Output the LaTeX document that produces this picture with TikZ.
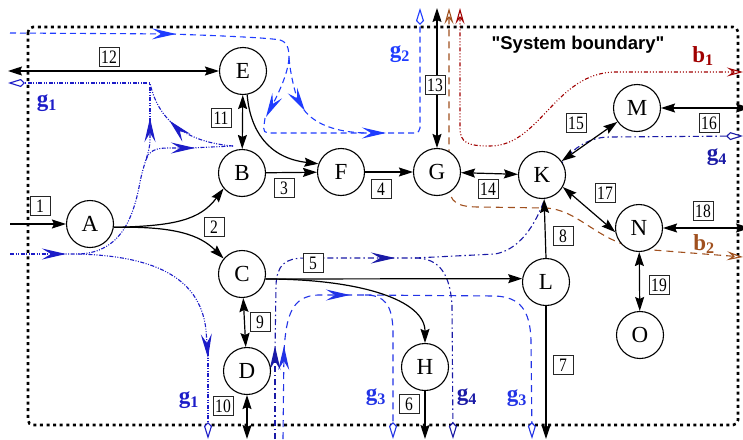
\documentclass[tikz,border=0pt]{standalone}
\usepackage{fontspec}
\setmainfont{Liberation Serif}
\newfontfamily\sysfont{Liberation Sans}
\newfontfamily\numfont[FakeStretch=0.82]{Liberation Serif}
\usetikzlibrary{arrows.meta,decorations.markings}
\definecolor{gone}{HTML}{1C1CC8}
\definecolor{gtwo}{HTML}{1F3CFF}
\definecolor{gthree}{HTML}{2233E6}
\definecolor{gfour}{HTML}{1A1AA6}
\definecolor{bone}{HTML}{A00000}
\definecolor{btwo}{HTML}{A0501E}
\tikzset{
  ftip/.tip={Stealth[length=24pt,width=11pt,inset=9pt]},
  gkite/.tip={Kite[open,fill=white,length=17pt,width=8pt]},
  bopen/.tip={Stealth[open,fill=white,length=16pt,width=9pt,inset=6pt]},
  btip/.tip={Stealth[length=14pt,width=9pt,inset=2pt]},
}
\begin{document}
\begin{tikzpicture}[x=1pt,y=-1pt,
  state/.style={circle,draw,line width=1.1pt,fill=white,minimum size=47pt,inner sep=0pt,font=\fontsize{23}{24}\selectfont},
  num/.style={draw=black!85,line width=0.7pt,fill=white,minimum width=20pt,minimum height=19pt,inner sep=0.5pt,font=\numfont\fontsize{19}{20}\selectfont},
  blk/.style={line width=1.2pt,-{btip}},
  blkd/.style={line width=1.2pt,{btip}-{btip}},
  farr/.style={postaction={decorate,decoration={markings,mark=at position #1 with {\arrow{ftip}}}}},
  g1s/.style={gone,line width=1.1pt,dash pattern=on 4pt off 1.5pt on 1pt off 1.5pt on 1pt off 1.5pt},
  g2s/.style={gtwo,line width=1.1pt,dash pattern=on 6pt off 4pt},
  g3s/.style={gthree,line width=1.1pt,dash pattern=on 7pt off 5pt},
  g4s/.style={gfour,line width=1.1pt,dash pattern=on 6pt off 3pt on 1.5pt off 3pt},
  b1s/.style={bone,line width=1.1pt,dash pattern=on 4pt off 2pt on 1pt off 2pt on 1pt off 2pt on 1pt off 2pt},
  b2s/.style={btwo,line width=1.1pt,dash pattern=on 7pt off 5pt},
  glab/.style={font=\bfseries\fontsize{23}{24}\selectfont},
]
\useasboundingbox (0,0) rectangle (743,439);
% system boundary
\draw[line width=2.6pt,dash pattern=on 3pt off 3.6pt,rounded corners=5pt] (28,27) rectangle (738,425);
\node[font=\sysfont\bfseries\fontsize{18.5}{20}\selectfont] (sys) at (578,45) {"System boundary"};

% ---- flow g1
\draw[g1s,-{ftip}] (10,254) -- (66,254);
\draw[g1s,-{ftip}] (60,254) -- (78,254) .. controls (122,253) and (134,215) .. (140,182) .. controls (144,162) and (150,152) .. (150,140) -- (150,118);
\draw[g1s,-{gkite}] (150,122) -- (150,83) -- (8,83);
\draw[g1s,-{ftip}] (146,160) .. controls (149,151) and (155,148) .. (168,148) -- (195,148);
\draw[g1s] (190,148) -- (233,146);
\draw[g1s,farr=0.62] (233,146) .. controls (185,142) and (158,120) .. (150,83);
\draw[g1s,-{ftip}] (78,254) .. controls (150,256) and (200,275) .. (206,330) -- (208,358);
\draw[g1s,-{gkite}] (208,352) -- (208,439);
% ---- flow g2
\draw[g2s,-{ftip}] (10,33) -- (176,34);
\draw[g2s] (170,34) .. controls (230,36) and (270,38) .. (280,40) .. controls (287,42) and (289,48) .. (289,58);
\draw[g2s,-{ftip}] (289,58) .. controls (288,75) and (276,98) .. (266,117);
\draw[g2s,-{ftip}] (289,58) .. controls (291,80) and (297,98) .. (305,111);
\draw[g2s,rounded corners=5pt,-{ftip}] (265,118) -- (263,133) -- (386,133);
\draw[g2s] (304,110) .. controls (315,124) and (335,132) .. (365,133);
\draw[g2s,rounded corners=5pt,-{gkite}] (378,133) -- (420,133) -- (420,8);
% ---- flow g3
\draw[g3s,-{ftip}] (283,439) -- (284,346);
\draw[g3s,-{ftip}] (284,352) .. controls (286,315) and (292,296) .. (318,295) -- (350,295);
\draw[g3s,-{gkite}] (345,295) -- (365,295) .. controls (385,295) and (392,305) .. (393,330) -- (393,439);
\draw[g3s,-{gkite}] (365,295) -- (495,296) .. controls (520,297) and (530,310) .. (531,340) -- (532,439);
% ---- flow g4
\draw[g4s,-{ftip}] (275,439) -- (275,346);
\draw[g4s,-{ftip}] (275,352) -- (276,285) .. controls (277,265) and (285,258) .. (305,258) -- (395,258);
\draw[g4s,-{gkite}] (388,258) -- (415,258) .. controls (440,258) and (450,275) .. (452,305) -- (453,439);
\draw[g4s,-{gkite}] (415,258) -- (495,254) .. controls (518,250) and (535,228) .. (546,195) .. controls (554,168) and (575,137) .. (610,137) -- (743,136);
% ---- flow b1, b2
\draw[b1s,{bopen}-{bopen}] (460,8) -- (460,128) .. controls (460,143) and (468,146) .. (490,146) .. controls (540,146) and (555,73) .. (615,72) -- (743,72);
\draw[b2s,{bopen}-{bopen}] (449,8) -- (449,185) .. controls (449,203) and (458,207) .. (480,207) -- (545,208) .. controls (578,209) and (595,240) .. (640,249) -- (743,257);

% ---- states
\node[state] (A) at (90,224) {A};
\node[state] (B) at (242,173) {B};
\node[state] (E) at (243,71) {E};
\node[state] (F) at (341,172) {F};
\node[state] (G) at (437,172) {G};
\node[state] (K) at (542,175) {K};
\node[state] (M) at (637,108) {M};
\node[state] (N) at (639,228) {N};
\node[state] (L) at (546,282) {L};
\node[state] (C) at (242,274) {C};
\node[state] (D) at (247,371) {D};
\node[state] (H) at (425,367) {H};
\node[state] (O) at (640,335) {O};

\coordinate (in1) at (10,224);
\coordinate (l12) at (8,71);
\coordinate (t13) at (437,8);
\coordinate (r16) at (750,108);
\coordinate (r18) at (750,228);
\coordinate (b7) at (546,439);
\coordinate (b6) at (425,439);
\coordinate (b10) at (247,439);

% ---- black connectors
\draw[blk] (in1) -- (A);
\draw[blk] (A.-8) .. controls (175,226) and (200,220) .. (B.220);
\draw[blk] (A.-8) .. controls (175,226) and (200,235) .. (C.140);
\draw[blk] (B) -- (F);
\draw[blkd] (E) -- (B);
\draw[blk] (E.-80) .. controls (250,130) and (268,158) .. (F.160);
\draw[blkd] (E) -- (l12);
\draw[blk] (F) -- (G);
\draw[blkd] (G) -- (K);
\draw[blkd] (t13) -- (G);
\draw[blkd] (K) -- (M);
\draw[blkd] (M) -- (r16);
\draw[blkd] (K.-30) -- (N.190);
\draw[blkd] (N) -- (r18);
\draw[blkd] (N) -- (O);
\draw[blk] (L.north) -- (K.-85);
\draw[blk] (L) -- (b7);
\draw[blk] (C.-12) -- (L.172);
\draw[blk] (C.-12) .. controls (360,279) and (425,300) .. (H.north);
\draw[blk] (H) -- (b6);
\draw[blkd] (C) -- (D);
\draw[blkd] (D) -- (b10);

% ---- number labels
\node[num] (n1) at (40,206) {1};
\node[num] (n2) at (214,227) {2};
\node[num] (n3) at (284,188) {3};
\node[num] (n4) at (381,189) {4};
\node[num] (n5) at (313,263) {5};
\node[num] (n6) at (409,404) {6};
\node[num] (n7) at (563,365) {7};
\node[num] (n8) at (563,236) {8};
\node[num] (n9) at (260,322) {9};
\node[num] (n10) at (223,406) {10};
\node[num] (n11) at (221,118) {11};
\node[num] (n12) at (109,57) {12};
\node[num] (n13) at (435,85) {13};
\node[num] (n14) at (488,189) {14};
\node[num] (n15) at (576,123) {15};
\node[num] (n16) at (709,123) {16};
\node[num] (n17) at (605,193) {17};
\node[num] (n18) at (703,211) {18};
\node[num] (n19) at (659,285) {19};

% ---- flow labels
\node[glab,gone] (lg1a) at (47,103) {g\textsubscript{1}};
\node[glab,gone] (lg1b) at (189,400) {g\textsubscript{1}};
\node[glab,gtwo] (lg2) at (400,54) {g\textsubscript{2}};
\node[glab,gthree] (lg3a) at (376,397) {g\textsubscript{3}};
\node[glab,gthree] (lg3b) at (517,398) {g\textsubscript{3}};
\node[glab,gfour] (lg4a) at (467,397) {g\textsubscript{4}};
\node[glab,gfour] (lg4b) at (717,157) {g\textsubscript{4}};
\node[glab,bone] (lb1) at (703,56) {b\textsubscript{1}};
\node[glab,btwo] (lb2) at (704,244) {b\textsubscript{2}};
\end{tikzpicture}
\end{document}
